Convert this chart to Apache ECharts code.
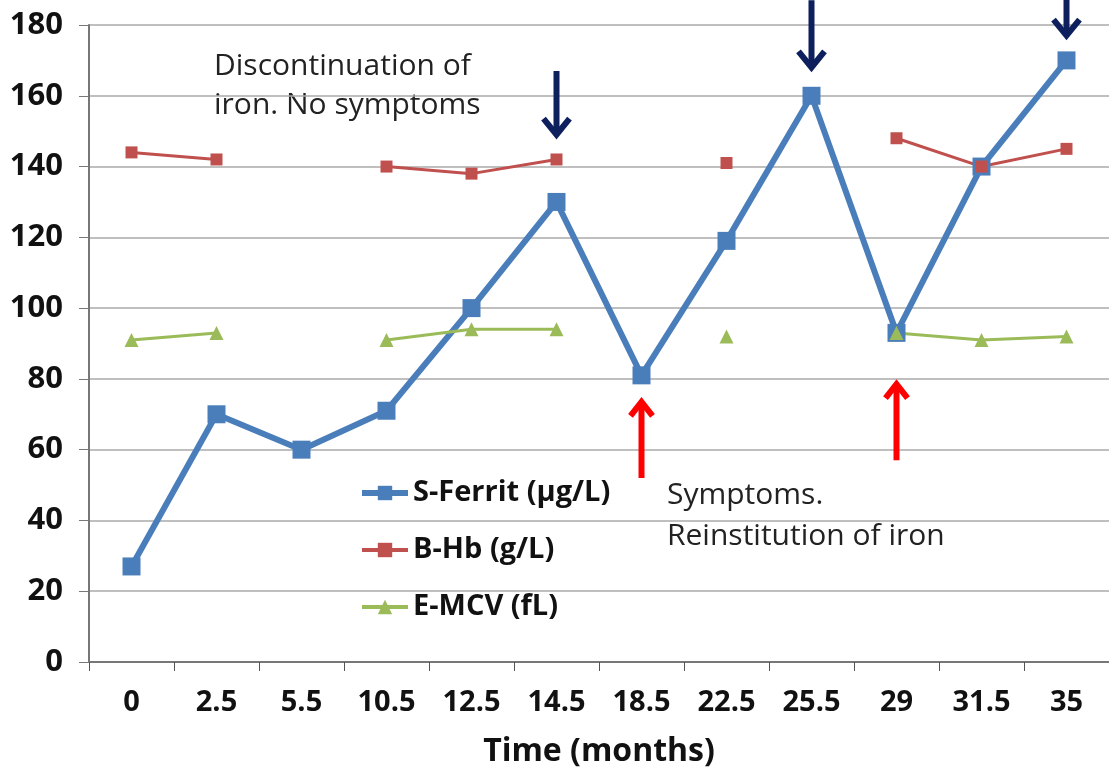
<!DOCTYPE html>
<html><head><meta charset="utf-8">
<script src="https://cdn.jsdelivr.net/npm/echarts@6/dist/echarts.min.js"></script>
<style>html,body{margin:0;padding:0;background:#fff}#c{width:1109px;height:773px}</style>
</head><body><div id="c"></div>
<script>
const categories = ['0','2.5','5.5','10.5','12.5','14.5','18.5','22.5','25.5','29','31.5','35'];
const sFerrit = [27,70,60,71,100,130,81,119,160,93,140,170];
const bHb = [144,142,null,140,138,142,null,141,null,148,140,145];
const eMCV = [91,93,null,91,94,94,null,92,null,93,91,92];
const yTicks = [0,20,40,60,80,100,120,140,160,180];
// annotation arrows: [category, tail value, head value, colour]
const arrows = [
  ['14.5',167,149,'#0d1f5c'],
  ['25.5',187,168,'#0d1f5c'],
  ['35',188,177,'#0d1f5c'],
  ['18.5',52,73.5,'#ff0000'],
  ['29',57,78.5,'#ff0000']
];
const FONT = '"Open Sans", "Liberation Sans", sans-serif';
const chart = echarts.init(document.getElementById('c'));
chart.setOption({
  animation:false,
  backgroundColor:'#fff',
  grid:{left:89,right:0,top:25,bottom:108,containLabel:false},
  xAxis:{type:'category',data:categories,boundaryGap:true,
    name:'Time (months)',nameLocation:'middle',nameGap:74,
    nameTextStyle:{fontFamily:FONT,fontWeight:'bold',fontSize:32,color:'#111'},
    axisLine:{lineStyle:{color:'#777',width:2}},
    axisTick:{show:true,length:9,lineStyle:{color:'#555'}},
    axisLabel:{fontFamily:FONT,fontWeight:'bold',fontSize:29,color:'#111',margin:26}},
  yAxis:{type:'value',min:yTicks[0],max:yTicks[yTicks.length-1],interval:20,
    axisLine:{show:true,lineStyle:{color:'#777',width:2}},
    axisTick:{show:true,length:10,lineStyle:{color:'#777'}},
    splitLine:{lineStyle:{color:'#aaa',width:1.5}},
    axisLabel:{fontFamily:FONT,fontWeight:'bold',fontSize:31,color:'#111',margin:26}},
  legend:{orient:'vertical',left:354,top:472,itemGap:25,itemWidth:46,itemHeight:18,
    textStyle:{fontFamily:FONT,fontWeight:'bold',fontSize:29,color:'#111',lineHeight:32},
    data:[
      {name:'S-Ferrit (µg/L)',lineStyle:{width:6},itemStyle:{color:'#4a7ebb'}},
      {name:'B-Hb (g/L)',lineStyle:{width:4}},
      {name:'E-MCV (fL)',lineStyle:{width:4}}
    ]},
  graphic:[
    {type:'text',left:214,top:47,style:{text:'Discontinuation of\niron. No symptoms',font:'30px '+FONT,fill:'#222',lineHeight:39}},
    {type:'text',left:667,top:475,style:{text:'Symptoms.\nReinstitution of iron',font:'30px '+FONT,fill:'#222',lineHeight:41}}
  ],
  series:[
    {name:'S-Ferrit (µg/L)',type:'line',data:sFerrit,color:'#4a7ebb',symbol:'rect',symbolSize:18,
      lineStyle:{width:6,color:'#4a7ebb'},itemStyle:{color:'#4a7ebb'}},
    {name:'B-Hb (g/L)',type:'line',data:bHb,color:'#c0504d',symbol:'rect',symbolSize:12,
      lineStyle:{width:3,color:'#c0504d'},itemStyle:{color:'#c0504d'}},
    {name:'E-MCV (fL)',type:'line',data:eMCV,color:'#9bbb59',symbol:'triangle',symbolSize:14,
      lineStyle:{width:3,color:'#9bbb59'},itemStyle:{color:'#9bbb59'}},
    {type:'custom',clip:false,silent:true,z:10,
      data:arrows.map(a=>[a[0],a[1],a[2],a[3]]),
      renderItem:function(params,api){
        const d = arrows[params.dataIndex];
        const p1 = api.coord([d[0],d[1]]);
        const p2 = api.coord([d[0],d[2]]);
        const dir = p2[1] > p1[1] ? 1 : -1;
        const hw = d[3]==='#ff0000' ? 11 : 13;
        const hh = d[3]==='#ff0000' ? 14 : 16;
        return {type:'group',children:[
          {type:'line',shape:{x1:p1[0],y1:p1[1],x2:p2[0],y2:p2[1]-dir*2},style:{stroke:d[3],lineWidth:6}},
          {type:'polyline',shape:{points:[[p2[0]-hw,p2[1]-dir*hh],[p2[0],p2[1]],[p2[0]+hw,p2[1]-dir*hh]]},
            style:{stroke:d[3],lineWidth:6,fill:null,lineJoin:'miter'}}
        ]};
      }}
  ]
});
</script></body></html>
